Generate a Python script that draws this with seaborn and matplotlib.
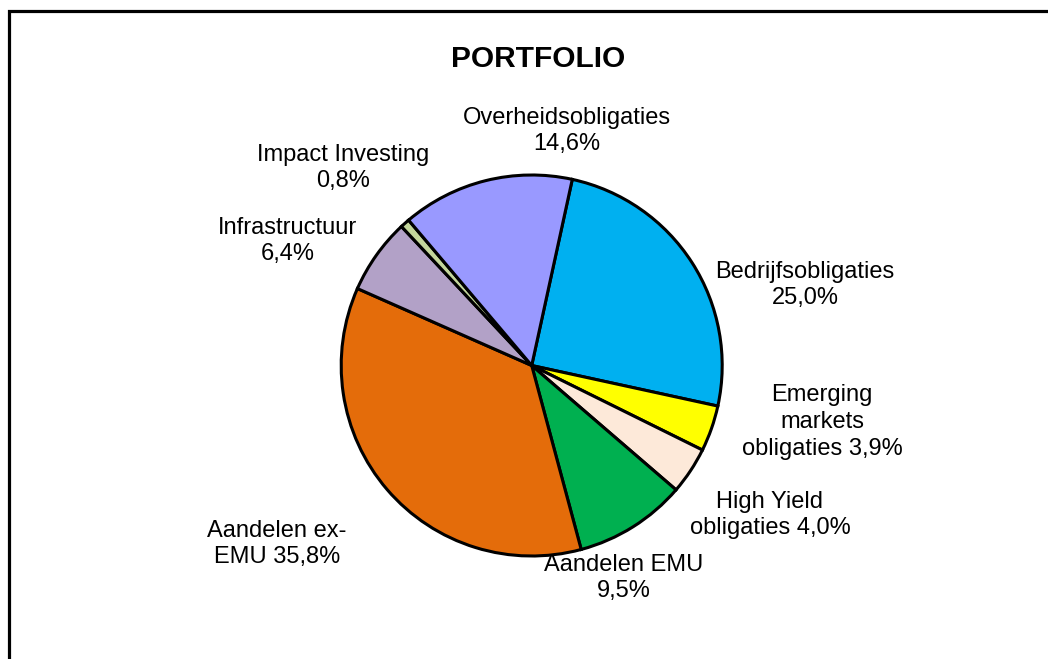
import matplotlib
matplotlib.use("Agg")
import matplotlib.pyplot as plt
import seaborn as sns

sns.set_theme(style="white")
plt.rcParams['font.family'] = ['Liberation Sans', 'DejaVu Sans']

# Data (clockwise order starting at the top)
categories = ["Bedrijfsobligaties", "Emerging markets obligaties", "High Yield obligaties",
              "Aandelen EMU", "Aandelen ex-EMU", "Infrastructuur", "Impact Investing",
              "Overheidsobligaties"]
values = [25.0, 3.9, 4.0, 9.5, 35.8, 6.4, 0.8, 14.6]
label_texts = ["Bedrijfsobligaties\n25,0%", "Emerging\nmarkets\nobligaties 3,9%",
               "High Yield\nobligaties 4,0%", "Aandelen EMU\n9,5%",
               "Aandelen ex-\nEMU 35,8%", "Infrastructuur\n6,4%",
               "Impact Investing\n0,8%", "Overheidsobligaties\n14,6%"]
colors = ["#00B0F0", "#FFFF00", "#FDE9D9", "#00B050", "#E46C0A", "#B2A1C7",
          "#C3D69B", "#9999FF"]

# Layout (pixel space, origin top-left)
W, H = 1048, 659
label_pos = [(805, 285), (822, 422), (770, 515), (624, 578),
             (277, 544), (288, 241), (343, 168), (567, 131)]

fig = plt.figure(figsize=(W / 100, H / 100), dpi=100)
ax = fig.add_axes([0, 0, 1, 1])
ax.set_xlim(0, W)
ax.set_ylim(0, H)
ax.axis("off")

ax.pie(values, colors=colors, startangle=77.7, counterclock=False,
       center=(531.7, H - 365.5), radius=190.5,
       wedgeprops=dict(edgecolor="black", linewidth=2.2))
ax.set_xlim(0, W)
ax.set_ylim(0, H)
ax.set_aspect("equal")

for txt, (x, y) in zip(label_texts, label_pos):
    ax.text(x, H - y, txt, ha="center", va="center", fontsize=17,
            linespacing=1.27, color="black")

ax.text(538, H - 59, "PORTFOLIO", ha="center", va="center", fontsize=21.5,
        fontweight="bold", color="black")

# chart border (top and left visible)
ax.plot([9.3, 9.3, W + 5], [-5, H - 11.3, H - 11.3], color="black", linewidth=2.3,
        solid_capstyle="projecting", solid_joinstyle="miter", clip_on=False)

fig.savefig("out.png", dpi=100, facecolor="white")
